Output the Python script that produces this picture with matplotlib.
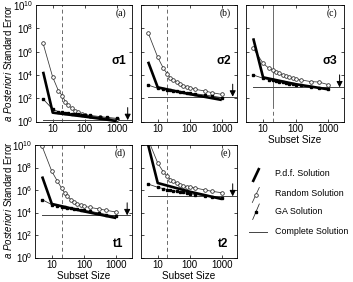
import matplotlib
matplotlib.use('Agg')
import matplotlib.pyplot as plt
from matplotlib.lines import Line2D
import numpy as np

plt.rcParams['font.family'] = ['Liberation Sans', 'DejaVu Sans']
plt.rcParams['mathtext.fontset'] = 'custom'
plt.rcParams['mathtext.rm'] = 'Liberation Sans'
plt.rcParams['mathtext.it'] = 'Liberation Sans:italic'
plt.rcParams['mathtext.bf'] = 'Liberation Sans:bold'

# ---------------- data (log10 of a posteriori standard error) ----------------
subset_sizes = [5, 10, 15, 20, 25, 30, 40, 50, 60, 80, 100, 150, 300, 500, 1000]
pdf_sizes = [5, 10, 100, 1000]
complete_sizes = [5, 2700]
full_size = 2200
marked_size = 20

random_a = [6.7, 3.8, 2.65, 2.2, 1.7, 1.4, 1.15, 0.9, 0.8, 0.68, 0.58, 0.47, 0.36, 0.27, 0.19]
random_b = [7.62, 5.51, 4.57, 4.08, 3.71, 3.56, 3.42, 3.22, 3.07, 2.99, 2.90, 2.76, 2.62, 2.47, 2.33]
random_c = [6.28, 5.0, 4.57, 4.42, 4.27, 4.14, 3.99, 3.9, 3.79, 3.71, 3.62, 3.56, 3.42, 3.39, 3.16]
random_d = [9.88, 7.66, 6.77, 6.18, 5.73, 5.44, 5.14, 4.93, 4.76, 4.64, 4.55, 4.46, 4.31, 4.19, 4.04]
random_e = [10.5, 8.4, 7.6, 7.21, 6.92, 6.77, 6.62, 6.47, 6.38, 6.29, 6.24, 6.18, 6.0, 5.88, 5.76]

ga_a = [1.93, 1.05, 0.85, 0.78, 0.74, 0.72, 0.68, 0.65, 0.62, 0.6, 0.57, 0.52, 0.42, 0.35, 0.27]
ga_b = [3.13, 2.85, 2.78, 2.72, 2.68, 2.64, 2.6, 2.56, 2.52, 2.47, 2.43, 2.38, 2.27, 2.18, 2.05]
ga_c = [3.99, 3.71, 3.6, 3.52, 3.46, 3.42, 3.36, 3.3, 3.26, 3.2, 3.16, 3.1, 3.0, 2.9, 2.78]
ga_d = [5.14, 4.7, 4.6, 4.53, 4.48, 4.44, 4.38, 4.33, 4.29, 4.24, 4.2, 4.12, 3.95, 3.82, 3.66]
ga_e = [6.53, 6.24, 6.12, 6.04, 5.98, 5.94, 5.88, 5.82, 5.78, 5.73, 5.68, 5.6, 5.48, 5.4, 5.29]

pdf_a = [4.27, 0.76, 0.42, 0.04]
pdf_b = [5.13, 2.93, 2.35, 1.85]
pdf_c = [7.14, 3.79, 3.2, 2.76]
pdf_d = [7.2, 4.76, 4.1, 3.51]
pdf_e = [10.03, 6.62, 5.85, 5.2]

complete_a = 0.12
complete_b = 2.13
complete_c = 2.93
complete_d = 3.75
complete_e = 5.44

panel_letters = ['(a)', '(b)', '(c)', '(d)', '(e)']
panel_names = ['σ1', 'σ2', 'σ3', 't1', 't2']
x_ticks = [10, 100, 1000]
x_ticklabels = ['10', '100', '1000']
y_ticks = [1e0, 1e2, 1e4, 1e6, 1e8, 1e10]

legend_labels = ['P.d.f. Solution', 'Random Solution', 'GA Solution', 'Complete Solution']

# ---------------- layout ----------------
W, H = 353, 282
fig = plt.figure(figsize=(W / 100, H / 100), dpi=100)

def rect(l, t, r, b):
    return [l / W, 1 - b / H, (r - l) / W, (b - t) / H]

rects = [rect(36, 5, 132, 121.5), rect(141, 5, 237, 121.5), rect(246, 5, 344, 121.5),
         rect(35, 145, 131.5, 257.5), rect(141, 145, 237, 257.5)]

randoms = [random_a, random_b, random_c, random_d, random_e]
gas = [ga_a, ga_b, ga_c, ga_d, ga_e]
pdfs = [pdf_a, pdf_b, pdf_c, pdf_d, pdf_e]
completes = [complete_a, complete_b, complete_c, complete_d, complete_e]
name_pos = ['mid', 'mid', 'mid', 'low', 'low']

gray = '#6a6a6a'
RMS = 2.6
GMS = 1.7
for i in range(5):
    ax = fig.add_axes(rects[i])
    ax.set_xscale('log')
    ax.set_yscale('log')
    ax.set_xlim(3, 3000)
    ax.set_ylim(1, 1e10)

    # vertical marker at subset size 20
    if i == 2:
        ax.plot([marked_size, marked_size], [10 ** 1.25, 1e10], color=gray, lw=0.7)
        ax.plot([marked_size, marked_size], [1, 10 ** 1.25], color=gray, lw=0.7, ls=(0, (4, 3)))
    else:
        ax.axvline(marked_size, color=gray, lw=0.7, ls=(0, (4, 3)))

    # complete solution
    ax.plot(complete_sizes, [10 ** completes[i]] * 2, color='#444444', lw=0.7)
    # random
    ax.plot(subset_sizes, 10 ** np.array(randoms[i]), color='#333333', lw=0.55,
            marker='o', ms=RMS, mfc='white', mec='#222222', mew=0.55)
    # GA
    ax.plot(subset_sizes, 10 ** np.array(gas[i]), color='#222222', lw=0.55,
            marker='s', ms=GMS, mfc='black', mec='black')
    # pdf
    ax.plot(pdf_sizes, 10 ** np.array(pdfs[i]), color='black', lw=1.9, solid_capstyle='butt')

    # arrow at full size
    ax.annotate('', xy=(full_size, 10 ** completes[i]), xycoords='data',
                xytext=(0, 9), textcoords='offset points',
                arrowprops=dict(arrowstyle='-|>,head_width=0.18,head_length=0.35',
                                color='black', lw=0.7, shrinkA=0, shrinkB=0))

    ax.set_xticks(x_ticks)
    ax.set_xticklabels(x_ticklabels)
    ax.xaxis.set_minor_locator(matplotlib.ticker.NullLocator())
    ax.set_yticks(y_ticks)
    ax.yaxis.set_minor_locator(matplotlib.ticker.NullLocator())
    ax.tick_params(direction='in', length=2.5, width=0.5, top=True, right=True,
                   labelsize=7, pad=2)
    if i not in (0, 3):
        ax.tick_params(labelleft=False)
    for s in ax.spines.values():
        s.set_linewidth(0.6)

    ax.text(0.88, 0.93, panel_letters[i], transform=ax.transAxes, ha='center', va='center',
            fontsize=7, family=['Liberation Serif', 'DejaVu Serif'])
    if name_pos[i] == 'mid':
        ax.text(0.86, 0.52, panel_names[i], transform=ax.transAxes, ha='center', va='center',
                fontsize=8.5, fontweight='bold')
    else:
        ax.text(0.86, 0.12, panel_names[i], transform=ax.transAxes, ha='center', va='center',
                fontsize=8.5, fontweight='bold')
    if i in (2, 3, 4):
        ax.set_xlabel('Subset Size', fontsize=7.2, labelpad=0.5)

# y labels
for yc in (63, 200):
    fig.text(8 / W, 1 - yc / H, r'$\mathit{a\ Posteriori}$ Standard Error', rotation=90,
             ha='center', va='center', fontsize=7)

# legend drawn in figure pixels
def P(x, y):
    return (x / W, 1 - y / H)

def seg(x0, y0, x1, y1, **kw):
    a, b = P(x0, y0)
    c, d = P(x1, y1)
    fig.add_artist(Line2D([a, c], [b, d], transform=fig.transFigure, **kw))

seg(252.7, 182, 259.3, 168, color='black', lw=1.9, solid_capstyle='butt')
seg(252.3, 202.5, 259.3, 187.5, color='#333333', lw=0.55)
cx, cy = P(255.8, 195)
fig.add_artist(Line2D([cx], [cy], transform=fig.transFigure, marker='o', ms=RMS,
                      mfc='white', mec='#222222', mew=0.55))
seg(252.7, 219.5, 259.3, 204, color='#222222', lw=0.55)
cx, cy = P(256, 211.7)
fig.add_artist(Line2D([cx], [cy], transform=fig.transFigure, marker='s', ms=GMS + 0.4,
                      mfc='black', mec='black'))
seg(249.3, 231.7, 266.7, 231.7, color='#444444', lw=0.7)

for lab, ty in zip(legend_labels, [174, 193.3, 211, 231.7]):
    fig.text(275 / W, 1 - ty / H, lab, ha='left', va='center', fontsize=6.4)

fig.savefig('out.png', dpi=100)
